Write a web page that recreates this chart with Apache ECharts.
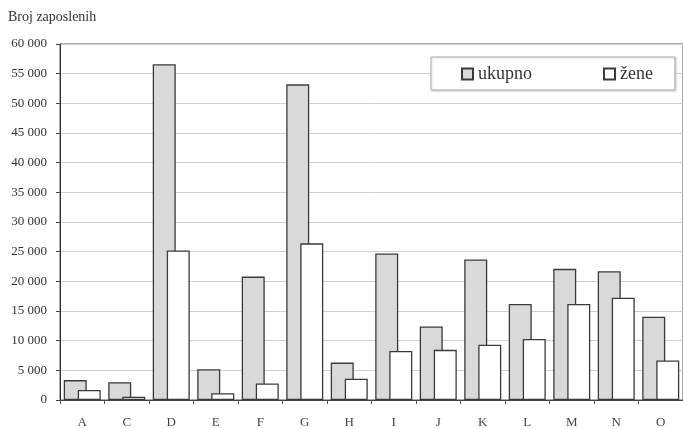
<!DOCTYPE html>
<html>
<head>
<meta charset="utf-8">
<script src="https://cdn.jsdelivr.net/npm/echarts@6/dist/echarts.min.js"></script>
<style>
html,body{margin:0;padding:0;background:#fff;}
#chart{width:683px;height:429px;}
</style>
</head>
<body>
<div id="chart"></div>
<script>
const categories = ['A','C','D','E','F','G','H','I','J','K','L','M','N','O'];
const ukupno = [3350, 3000, 56600, 5200, 20800, 53200, 6300, 24700, 12400, 23700, 16200, 22100, 21700, 14050];
const zene   = [1700, 560, 25200, 1150, 2800, 26400, 3600, 8250, 8450, 9300, 10300, 16200, 17250, 6650];
const yTitle = 'Broj zaposlenih';
const seriesNames = ['ukupno', 'žene'];

const serif = '"Liberation Serif", "DejaVu Serif", serif';
const chart = echarts.init(document.getElementById('chart'));
chart.setOption({
  animation: false,
  backgroundColor: '#fff',
  graphic: [{
    type: 'text', left: 8, top: 10,
    style: { text: yTitle, font: '14px ' + serif, fill: '#333' }
  }],
  legend: {
    left: 431, top: 57,
    padding: [8, 22, 7, 30],
    itemGap: 71,
    icon: 'rect',
    itemWidth: 11, itemHeight: 11,
    backgroundColor: '#fff',
    borderColor: '#aaa', borderWidth: 1,
    shadowColor: 'rgba(0,0,0,0.15)', shadowBlur: 2, shadowOffsetX: 1, shadowOffsetY: 1,
    textStyle: { fontFamily: serif, fontSize: 18, color: '#333' },
    data: seriesNames
  },
  grid: {
    left: 60, top: 44, width: 625, bottom: 29,
    show: true, borderColor: '#555', borderWidth: 1
  },
  xAxis: {
    type: 'category',
    data: categories,
    axisLine: { lineStyle: { color: '#444', width: 1 } },
    axisTick: { show: true, length: 4, lineStyle: { color: '#555' } },
    axisLabel: { fontFamily: serif, fontSize: 13, color: '#444', margin: 16 }
  },
  yAxis: {
    type: 'value',
    min: 0, max: 60000, interval: 5000,
    axisLine: { show: true, lineStyle: { color: '#333', width: 1 } },
    axisTick: { show: true, length: 4, lineStyle: { color: '#444' } },
    axisLabel: {
      fontFamily: serif, fontSize: 13, color: '#333', margin: 13,
      formatter: v => String(v).replace(/\B(?=(\d{3})+(?!\d))/g, ' ')
    },
    splitLine: { lineStyle: { color: '#cfcfcf', width: 1 } }
  },
  series: [
    {
      name: seriesNames[0], type: 'bar', data: ukupno,
      barWidth: 23, barGap: '-39%',
      itemStyle: { color: '#d9d9d9', borderColor: '#3a3a3a', borderWidth: 1.3 }
    },
    {
      name: seriesNames[1], type: 'bar', data: zene,
      barWidth: 23, barGap: '-39%',
      itemStyle: { color: '#ffffff', borderColor: '#3a3a3a', borderWidth: 1.3 }
    }
  ]
});
</script>
</body>
</html>
